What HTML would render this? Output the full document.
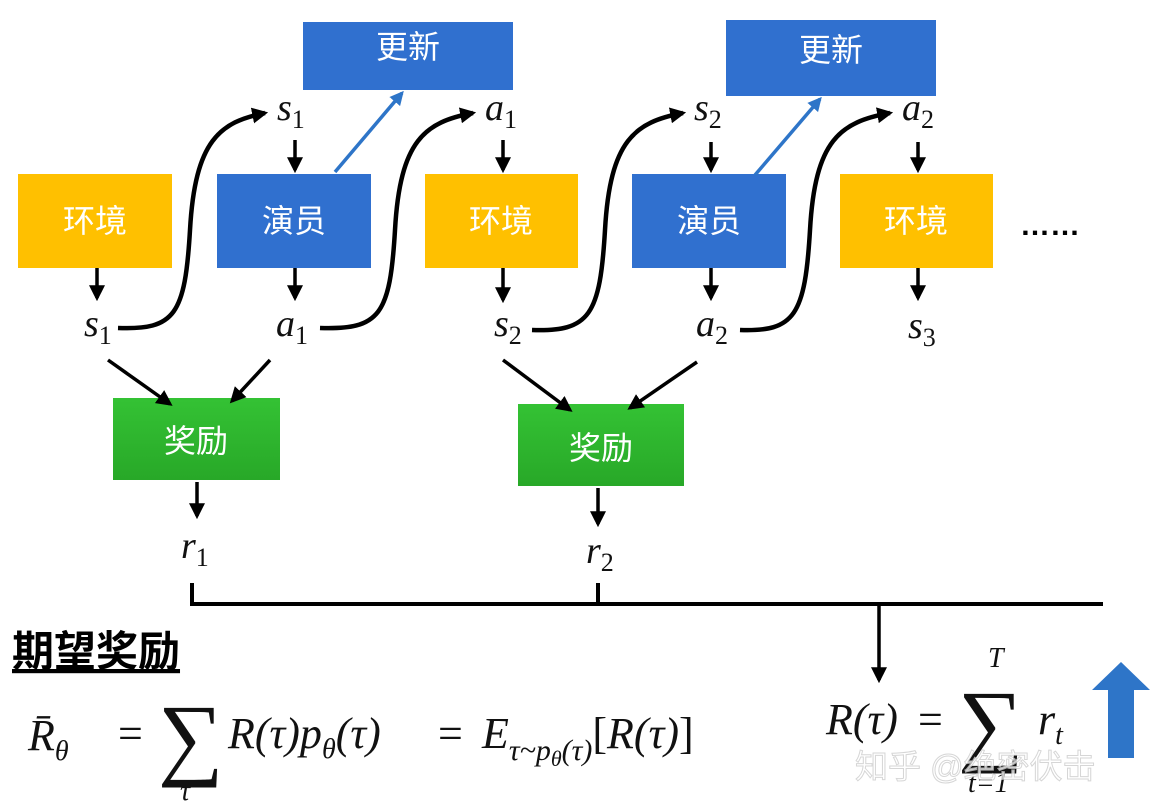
<!DOCTYPE html>
<html><head><meta charset="utf-8"><style>
body{margin:0;background:#fff;width:1176px;height:810px;overflow:hidden}
svg{display:block}
.cn{font-family:"Liberation Sans","Noto Sans CJK SC",sans-serif;fill:#fff;font-size:32px;text-anchor:middle}
.m{font-family:"Liberation Serif","DejaVu Serif",serif;font-style:italic;fill:#111}
</style></head><body>
<svg width="1176" height="810" viewBox="0 0 1176 810">
<defs>
<marker id="ak" viewBox="0 0 10 10" refX="8" refY="5" markerWidth="16" markerHeight="16" orient="auto" markerUnits="userSpaceOnUse"><path d="M0,0 L10,5 L0,10z" fill="#000"/></marker>
<marker id="ab" viewBox="0 0 10 10" refX="8" refY="5" markerWidth="14" markerHeight="14" orient="auto" markerUnits="userSpaceOnUse"><path d="M0,0 L10,5 L0,10z" fill="#2E75C8"/></marker>
<linearGradient id="g" x1="0" y1="0" x2="0" y2="1"><stop offset="0" stop-color="#34C234"/><stop offset="1" stop-color="#28A828"/></linearGradient>
</defs>
<rect x="18" y="174" width="154" height="94" fill="#FFC000"/>
<rect x="217" y="174" width="154" height="94" fill="#3070CF"/>
<rect x="303" y="22" width="210" height="68" fill="#3070CF"/>
<rect x="425" y="174" width="153" height="94" fill="#FFC000"/>
<rect x="632" y="174" width="154" height="94" fill="#3070CF"/>
<rect x="726" y="20" width="210" height="76" fill="#3070CF"/>
<rect x="840" y="174" width="153" height="94" fill="#FFC000"/>
<rect x="113" y="398" width="167" height="82" fill="url(#g)"/>
<rect x="518" y="404" width="166" height="82" fill="url(#g)"/>
<text class="cn" x="95" y="232">环境</text>
<text class="cn" x="294" y="232">演员</text>
<text class="cn" x="408" y="58">更新</text>
<text class="cn" x="501" y="232">环境</text>
<text class="cn" x="709" y="232">演员</text>
<text class="cn" x="831" y="61">更新</text>
<text class="cn" x="916" y="232">环境</text>
<text class="cn" x="196" y="452" font-size="34">奖励</text>
<text class="cn" x="601" y="459" font-size="34">奖励</text>
<text x="1020" y="235" font-family="Liberation Sans,sans-serif" font-size="30" font-weight="bold" fill="#000">……</text>
<g class="m" font-size="38">
<text x="84" y="336">s<tspan font-size="26" font-style="normal" dy="8">1</tspan></text>
<text x="276" y="336">a<tspan font-size="26" font-style="normal" dy="8">1</tspan></text>
<text x="494" y="336">s<tspan font-size="26" font-style="normal" dy="8">2</tspan></text>
<text x="696" y="336">a<tspan font-size="26" font-style="normal" dy="8">2</tspan></text>
<text x="908" y="338">s<tspan font-size="26" font-style="normal" dy="8">3</tspan></text>
<text x="277" y="120">s<tspan font-size="26" font-style="normal" dy="8">1</tspan></text>
<text x="485" y="120">a<tspan font-size="26" font-style="normal" dy="8">1</tspan></text>
<text x="694" y="120">s<tspan font-size="26" font-style="normal" dy="8">2</tspan></text>
<text x="902" y="120">a<tspan font-size="26" font-style="normal" dy="8">2</tspan></text>
<text x="181" y="558">r<tspan font-size="26" font-style="normal" dy="8">1</tspan></text>
<text x="586" y="563">r<tspan font-size="26" font-style="normal" dy="8">2</tspan></text>
</g>
<g stroke="#000" stroke-width="3.5" fill="none" marker-end="url(#ak)">
<line x1="97" y1="268" x2="97" y2="298"/>
<line x1="295" y1="140" x2="295" y2="170"/>
<line x1="295" y1="268" x2="295" y2="298"/>
<line x1="503" y1="140" x2="503" y2="170"/>
<line x1="503" y1="268" x2="503" y2="300"/>
<line x1="711" y1="142" x2="711" y2="170"/>
<line x1="711" y1="268" x2="711" y2="298"/>
<line x1="918" y1="142" x2="918" y2="170"/>
<line x1="918" y1="268" x2="918" y2="298"/>
<line x1="108" y1="360" x2="170" y2="404"/>
<line x1="270" y1="360" x2="232" y2="401"/>
<line x1="503" y1="360" x2="570" y2="410"/>
<line x1="697" y1="362" x2="630" y2="408"/>
<line x1="197" y1="482" x2="197" y2="516"/>
<line x1="598" y1="488" x2="598" y2="524"/>
<line x1="879" y1="604" x2="879" y2="680"/>
</g>
<g stroke="#000" stroke-width="4.5" fill="none" marker-end="url(#ak)">
<path d="M118 328 C175 330 185 315 190 230 C195 140 220 122 265 113"/>
<path d="M320 328 C380 330 390 315 395 230 C400 140 425 122 473 113"/>
<path d="M532 330 C590 332 600 315 605 230 C610 140 635 122 683 113"/>
<path d="M740 330 C795 332 805 315 810 230 C815 140 840 122 890 113"/>
</g>
<line x1="335" y1="172" x2="402" y2="93" stroke="#2E75C8" stroke-width="3.5" marker-end="url(#ab)"/>
<line x1="755" y1="175" x2="820" y2="99" stroke="#2E75C8" stroke-width="3.5" marker-end="url(#ab)"/>
<g stroke="#000" stroke-width="4" fill="none">
<line x1="192" y1="604" x2="1103" y2="604"/>
<line x1="192" y1="583" x2="192" y2="606"/>
<line x1="598" y1="583" x2="598" y2="606"/>
</g>
<text x="12" y="666" font-family="Liberation Sans,'Noto Sans CJK SC',sans-serif" font-size="42" font-weight="bold" fill="#000" text-decoration="underline">期望奖励</text>
<g class="m" font-size="44">
<text x="28" y="750">R̄<tspan font-size="28" dy="10">θ</tspan></text>
<text x="118" y="748" font-style="normal">=</text>
<text x="158" y="768" font-style="normal" font-size="92">∑</text>
<text x="180" y="800" font-size="28">τ</text>
<text x="228" y="748">R(τ)p<tspan font-size="28" dy="10">θ</tspan><tspan dy="-10">(τ)</tspan></text>
<text x="438" y="748" font-style="normal">=</text>
<text x="482" y="748">E<tspan font-size="30" dy="12">τ~p</tspan><tspan font-size="22" dy="6">θ</tspan><tspan font-size="30" dy="-6">(τ)</tspan><tspan dy="-12" font-style="normal">[</tspan>R(τ)<tspan font-style="normal">]</tspan></text>
<text x="826" y="734">R(τ)</text>
<text x="918" y="734" font-style="normal">=</text>
<text x="958" y="754" font-style="normal" font-size="92">∑</text>
<text x="988" y="667" font-size="28">T</text>
<text x="968" y="792" font-size="28">t=1</text>
<text x="1038" y="734">r<tspan font-size="28" dy="10">t</tspan></text>
</g>
<path d="M1092 690 L1121 662 L1150 690 L1134 690 L1134 758 L1108 758 L1108 690z" fill="#2E75C8"/>
<text x="855" y="778" font-family="Liberation Sans,'Noto Sans CJK SC',sans-serif" font-size="33" fill="#fff" stroke="#ccc" stroke-width="1" opacity="0.8">知乎 @绝密伏击</text>
</svg>
</body></html>
